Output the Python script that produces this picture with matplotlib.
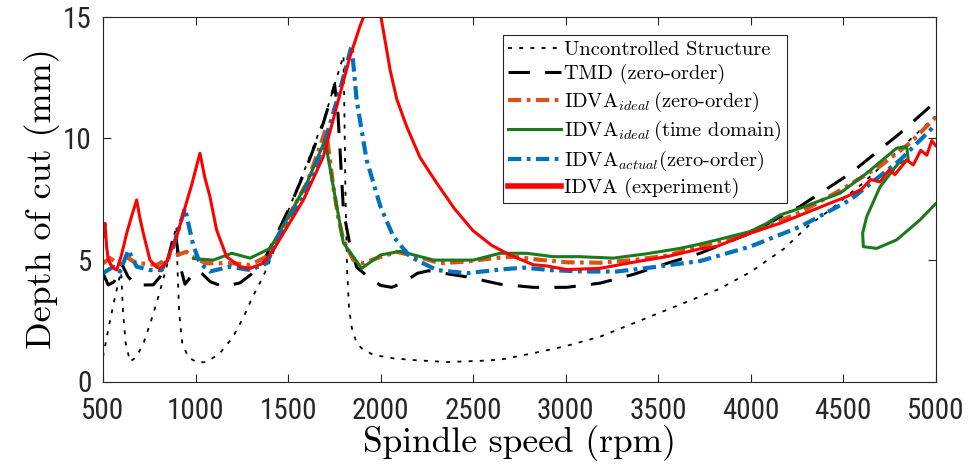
import matplotlib
matplotlib.use('Agg')
import matplotlib.pyplot as plt
from matplotlib import font_manager

plt.rcParams['mathtext.fontset'] = 'cm'
plt.rcParams['axes.unicode_minus'] = False

# Uncontrolled Structure
unc_x = [500, 530, 560, 590, 598, 608, 622, 646, 680, 720, 760, 800, 840, 870, 897,
         903, 912, 928, 960, 1010, 1060, 1130, 1200, 1260, 1310, 1365, 1410, 1500,
         1600, 1700, 1760, 1800, 1805, 1810, 1815, 1820, 1830, 1845, 1870, 1900, 1960,
         2070, 2180, 2360, 2540, 2650, 2830, 3000, 3190, 3370, 3550, 3730, 3830, 4000,
         4180, 4320, 4430, 4600, 4800, 5000]
unc_y = [1.0, 2.2, 3.3, 4.3, 4.5, 2.9, 1.6, 0.82, 1.0, 1.6, 2.5, 3.5, 4.6, 5.5, 6.4,
         4.6, 2.8, 1.6, 1.0, 0.78, 0.8, 1.15, 1.8, 2.65, 3.5, 4.3, 5.1, 7.0,
         8.9, 10.9, 12.4, 13.4, 11.0, 8.0, 6.0, 4.5, 3.0, 2.2, 1.6, 1.35, 1.1,
         0.95, 0.88, 0.8, 0.85, 0.9, 1.17, 1.45, 1.85, 2.4, 2.95, 3.5, 3.8, 4.5,
         5.45, 6.45, 7.05, 8.1, 9.5, 10.9]

# TMD (zero-order)
tmd_x = [500, 528, 560, 600, 636, 680, 736, 771, 808, 850, 889, 915, 943, 985, 1020,
         1080, 1150, 1240, 1300, 1365, 1430, 1511, 1600, 1690, 1730, 1752, 1770, 1785,
         1800, 1830, 1871, 1925, 2000, 2060, 2120, 2200, 2260, 2300, 2466, 2646, 2825,
         3006, 3186, 3366, 3547, 3727, 4000, 4268, 4540, 4808, 5000]
tmd_y = [4.45, 3.97, 4.1, 4.85, 4.3, 3.95, 3.97, 3.97, 4.3, 5.0, 6.2, 4.8, 4.0, 4.4, 4.55,
         4.1, 3.9, 4.05, 4.4, 4.9, 5.9, 7.2, 8.8, 10.6, 11.6, 12.2, 11.0, 9.0,
         7.0, 5.8, 4.7, 4.35, 3.95, 3.87, 4.05, 4.45, 4.55, 4.5, 4.3, 4.0, 3.87,
         3.87, 4.04, 4.4, 4.85, 5.27, 6.1, 7.2, 8.55, 10.2, 11.5]

# IDVA ideal (zero-order)
ido_x = [500, 538, 570, 600, 628, 660, 700, 790, 830, 862, 900, 952, 1000, 1060, 1203,
         1295, 1385, 1450, 1511, 1601, 1673, 1705, 1720, 1745, 1770, 1799, 1853, 1907,
         1980, 2088, 2214, 2322, 2466, 2610, 2718, 2862, 3006, 3186, 3366, 3547, 3727,
         3997, 4268, 4484, 4700, 4862, 5000]
ido_y = [4.86, 5.07, 4.9, 4.85, 5.13, 4.95, 4.86, 4.79, 4.95, 5.13, 5.2, 5.33, 5.05, 4.86, 4.86,
         4.79, 5.13, 5.9, 6.9, 8.14, 9.65, 10.4, 9.5, 8.0, 6.8, 5.82, 5.0, 4.86,
         5.07, 5.33, 5.1, 4.86, 4.93, 5.07, 5.13, 5.0, 4.9, 4.88, 4.99, 5.17, 5.55,
         6.09, 6.95, 7.85, 8.85, 9.8, 10.85]

# IDVA ideal (time domain)
itd_x = [990, 1096, 1196, 1295, 1403, 1511, 1601, 1700, 1799, 1898, 2000, 2106, 2286,
         2502, 2646, 2790, 2934, 3078, 3258, 3439, 3619, 3727, 3835, 3997, 4088, 4159,
         4268, 4484, 4628, 4790, 4844, 4853, 4799, 4700, 4628, 4606, 4610, 4682, 4790,
         4916, 5000]
itd_y = [5.05, 4.99, 5.27, 5.07, 5.47, 6.9, 8.14, 9.92, 5.7, 4.65, 5.2, 5.35, 4.99,
         4.99, 5.27, 5.27, 5.13, 5.13, 5.07, 5.25, 5.47, 5.65, 5.85, 6.16, 6.5, 6.84,
         7.12, 7.74, 8.56, 9.59, 9.65, 9.1, 8.97, 8.0, 6.77, 6.09, 5.54, 5.47, 5.82,
         6.64, 7.3]

# IDVA actual (zero-order)
iac_x = [500, 556, 592, 637, 682, 754, 817, 880, 943, 970, 988, 1024, 1078, 1186, 1295,
         1385, 1475, 1583, 1691, 1781, 1844, 1871, 1925, 2000, 2070, 2160, 2304, 2466,
         2646, 2772, 2916, 3096, 3276, 3457, 3637, 3727, 3997, 4268, 4538, 4808, 5000]
iac_y = [4.45, 4.72, 4.52, 5.4, 4.72, 4.58, 4.58, 5.54, 7.12, 6.2, 5.6, 4.86, 4.52, 4.72, 4.58,
         4.86, 6.36, 7.6, 9.65, 11.98, 13.8, 11.57, 9.1, 7.18, 5.95, 5.13, 4.58, 4.45,
         4.6, 4.68, 4.58, 4.52, 4.52, 4.68, 4.86, 4.95, 5.54, 6.36, 7.46, 9.1, 10.55]

# IDVA (experiment)
exp_x = [500, 511, 520, 529, 550, 574, 600, 628, 655, 682, 700, 718, 754, 790, 808, 840,
         862, 900, 934, 980, 1024, 1050, 1078, 1114, 1168, 1241, 1295, 1366, 1420, 1475,
         1583, 1691, 1763, 1835, 1889, 1925, 1960, 1995, 2016, 2052, 2088, 2142, 2214,
         2300, 2400, 2500, 2600, 2700, 2825, 2898, 3006, 3186, 3366, 3547, 3727, 3817,
         4000, 4159, 4339, 4520, 4600, 4650, 4700, 4750, 4780, 4844, 4880, 4920, 4953,
         4980, 5000]
exp_y = [5.95, 6.5, 5.5, 4.99, 4.7, 4.58, 5.2, 6.09, 6.8, 7.46, 6.7, 6.09, 4.99, 4.7, 4.65, 4.85,
         5.27, 6.0, 6.91, 8.1, 9.38, 8.4, 7.6, 6.23, 5.13, 4.72, 4.65, 4.86, 5.4, 6.09,
         7.46, 9.24, 11.3, 13.35, 14.6, 15.3, 15.8, 15.3, 14.4, 12.8, 11.6, 10.47, 9.2,
         8.2, 7.1, 6.2, 5.6, 5.2, 4.8, 4.75, 4.6, 4.65, 4.9, 5.13, 5.45, 5.55,
         6.1, 6.5, 7.05, 7.6, 7.9, 8.3, 8.2, 8.7, 8.5, 9.1, 8.9, 9.5, 9.3,
         9.9, 9.7]

labels = ['Uncontrolled Structure', 'TMD (zero-order)', r'IDVA$_{ideal}\,$(zero-order)',
          r'IDVA$_{ideal}\,$(time domain)', 'IDVA$_{actual}$(zero-order)', 'IDVA (experiment)']
x_ticks = [500, 1000, 1500, 2000, 2500, 3000, 3500, 4000, 4500, 5000]
y_ticks = [0, 5, 10, 15]

# pick a narrow sans font for the tick numbers if one is around
fonts = font_manager.fontManager.ttflist
names = {f.name for f in fonts}
tick_props = {'family': 'Liberation Sans', 'size': 19}
if 'Liberation Sans Narrow' in names:
    tick_props = {'family': 'Liberation Sans Narrow', 'size': 22}
elif 'Roboto Condensed' in names:
    tick_props = {'family': 'Roboto Condensed', 'size': 21}
elif any(f.name == 'DejaVu Sans' and f.stretch == 'condensed' for f in fonts):
    tick_props = {'family': 'DejaVu Sans', 'size': 20, 'stretch': 'condensed'}

fig = plt.figure(figsize=(9.71, 4.72), dpi=100)
ax = fig.add_axes([103 / 971, 1 - 381.5 / 472, 832.5 / 971, 365 / 472])

ax.plot(unc_x, unc_y, color='k', lw=1.3, linestyle=(0, (2.2, 4.0)), label=labels[0])
ax.plot(tmd_x, tmd_y, color='k', lw=2.2, linestyle=(0, (7, 5)), label=labels[1])
ax.plot(ido_x, ido_y, color='#D95319', lw=3.0, linestyle=(0, (3.2, 1.3, 0.9, 1.3)), label=labels[2])
ax.plot(itd_x, itd_y, color='#1C7A1C', lw=2.2, label=labels[3])
ax.plot(iac_x, iac_y, color='#0072BD', lw=3.0, linestyle=(0, (3.2, 1.3, 0.9, 1.3)), label=labels[4])
ax.plot(exp_x, exp_y, color='#FF0000', lw=2.2, label=labels[5])

ax.set_xlim(500, 5000)
ax.set_ylim(0, 15)
ax.set_xticks(x_ticks)
ax.set_yticks(y_ticks)

for lab in ax.get_xticklabels() + ax.get_yticklabels():
    lab.set_family(tick_props['family'])
    lab.set_fontsize(tick_props['size'])
    if 'stretch' in tick_props:
        lab.set_stretch(tick_props['stretch'])
ax.tick_params(direction='in', length=6, width=0.8, top=True, right=True,
               colors='#262626', labelcolor='#262626')
ax.tick_params(axis='x', pad=11)
ax.tick_params(axis='y', pad=8)
for sp in ax.spines.values():
    sp.set_color('#262626')
    sp.set_linewidth(0.8)

ax.set_xlabel('Spindle speed (rpm)', family='cmr10', fontsize=25.5, labelpad=0)
ax.set_ylabel('Depth of cut (mm)', family='cmr10', fontsize=26, labelpad=2)

leg = ax.legend(loc='upper left', bbox_to_anchor=(400 / 832.5, 1 - 19 / 365),
                prop={'family': 'cmr10', 'size': 14.7}, frameon=True, fancybox=False,
                edgecolor='#262626', framealpha=1, handlelength=2.6, handletextpad=0.15,
                labelspacing=0.26, borderpad=0.25, borderaxespad=0)
leg.get_frame().set_linewidth(0.8)
leg.legend_handles[5].set_linewidth(4)

fig.savefig('out.png', dpi=100)
